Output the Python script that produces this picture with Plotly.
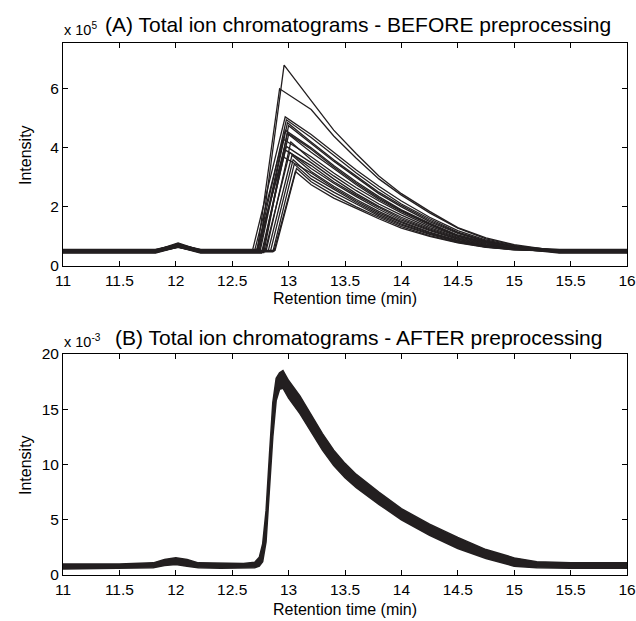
import plotly.graph_objects as go

# ---------------- Panel A: BEFORE preprocessing (x 10^5) ----------------
a_base = [0.50, 0.46, 0.53, 0.49, 0.55, 0.45, 0.51, 0.48, 0.54, 0.50,
          0.44, 0.56, 0.49, 0.52, 0.47, 0.51, 0.48, 0.53, 0.50, 0.46]
a_bump = [0.76, 0.70, 0.78, 0.68, 0.72, 0.66, 0.71, 0.69, 0.75, 0.67,
          0.64, 0.73, 0.68, 0.70, 0.65, 0.69, 0.63, 0.71, 0.66, 0.64]
a_onset = [12.74, 12.72, 12.68, 12.72, 12.75, 12.78, 12.74, 12.77, 12.70, 12.80,
           12.76, 12.73, 12.79, 12.82, 12.71, 12.84, 12.86, 12.88, 12.87, 12.77]
a_peak_t = [12.96, 12.92, 12.97, 12.98, 12.99, 13.00, 12.97, 13.00, 12.95, 13.02,
            12.98, 12.96, 13.01, 13.03, 12.95, 13.04, 13.05, 13.07, 13.06, 12.99]
a_peak_h = [6.80, 6.00, 5.05, 4.95, 4.85, 4.75, 4.60, 4.45, 4.30, 4.20,
            4.05, 3.95, 3.85, 3.75, 3.70, 3.60, 3.45, 3.30, 3.20, 4.50]
a_v132 = [5.60, 5.30, 4.45, 4.35, 4.20, 4.15, 4.00, 3.85, 3.70, 3.60,
          3.50, 3.40, 3.30, 3.20, 3.15, 3.05, 2.95, 2.85, 2.75, 3.95]
a_v134 = [4.60, 4.40, 3.85, 3.75, 3.60, 3.55, 3.40, 3.30, 3.15, 3.05,
          2.95, 2.85, 2.80, 2.70, 2.65, 2.60, 2.50, 2.40, 2.30, 3.35]
a_v136 = [3.80, 3.65, 3.25, 3.15, 3.05, 3.00, 2.85, 2.75, 2.65, 2.55,
          2.45, 2.40, 2.35, 2.25, 2.20, 2.15, 2.10, 2.00, 1.95, 2.80]
a_v138 = [3.05, 2.95, 2.70, 2.60, 2.50, 2.45, 2.35, 2.25, 2.20, 2.10,
          2.02, 1.98, 1.92, 1.85, 1.80, 1.75, 1.70, 1.65, 1.60, 2.30]
a_v140 = [2.45, 2.40, 2.20, 2.10, 2.05, 2.00, 1.90, 1.85, 1.80, 1.72,
          1.65, 1.60, 1.55, 1.50, 1.47, 1.42, 1.38, 1.33, 1.28, 1.88]
a_v1425 = [1.85, 1.80, 1.65, 1.60, 1.55, 1.50, 1.45, 1.40, 1.35, 1.30,
           1.26, 1.22, 1.20, 1.15, 1.12, 1.10, 1.07, 1.03, 1.00, 1.42]
a_v145 = [1.30, 1.28, 1.20, 1.15, 1.12, 1.10, 1.05, 1.02, 1.00, 0.97,
          0.94, 0.92, 0.90, 0.87, 0.85, 0.84, 0.82, 0.80, 0.78, 1.03]
a_v1475 = [0.95, 0.92, 0.88, 0.85, 0.83, 0.82, 0.80, 0.78, 0.76, 0.74,
           0.72, 0.70, 0.69, 0.68, 0.67, 0.66, 0.65, 0.64, 0.63, 0.79]
a_v150 = [0.72, 0.70, 0.68, 0.66, 0.65, 0.64, 0.63, 0.62, 0.61, 0.60,
          0.60, 0.59, 0.58, 0.57, 0.57, 0.56, 0.56, 0.55, 0.55, 0.62]

# ---------------- Panel B: AFTER preprocessing (x 10^-3) ----------------
b_time = [11.0, 11.5, 11.8, 11.9, 12.0, 12.1, 12.2, 12.4, 12.6, 12.7, 12.74,
          12.77, 12.8, 12.83, 12.86, 12.89, 12.92, 12.95, 12.98, 13.0, 13.1,
          13.2, 13.3, 13.4, 13.5, 13.6, 13.8, 14.0, 14.25, 14.5, 14.75, 15.0,
          15.2, 15.5, 16.0]
b_upper = [1.00, 1.00, 1.10, 1.40, 1.55, 1.40, 1.10, 1.05, 1.05, 1.15, 1.60,
           2.80, 5.80, 10.8, 15.6, 17.8, 18.3, 18.5, 18.0, 17.6, 16.2,
           14.5, 12.8, 11.3, 10.1, 9.1, 7.5, 6.0, 4.6, 3.4, 2.3, 1.55,
           1.20, 1.10, 1.10]
b_lower = [0.55, 0.60, 0.65, 0.85, 0.95, 0.80, 0.65, 0.60, 0.60, 0.65, 0.80,
           1.20, 3.00, 7.50, 12.5, 15.8, 16.8, 16.9, 16.4, 16.0, 14.6,
           12.9, 11.3, 9.9, 8.8, 7.9, 6.4, 5.0, 3.6, 2.4, 1.5, 0.80,
           0.65, 0.60, 0.60]

x_ticks = [11, 11.5, 12, 12.5, 13, 13.5, 14, 14.5, 15, 15.5, 16]
x_tick_text = ["11", "11.5", "12", "12.5", "13", "13.5", "14", "14.5", "15", "15.5", "16"]

INK = "#231f20"
FONT = "Liberation Sans, Arial, Helvetica, sans-serif"

fig = go.Figure()

for i in range(len(a_base)):
    xs = [11.0, 11.82, 12.02, 12.22, a_onset[i], a_peak_t[i], 13.2, 13.4, 13.6,
          13.8, 14.0, 14.25, 14.5, 14.75, 15.0, 15.4, 16.0]
    ys = [a_base[i], a_base[i], a_bump[i], a_base[i], a_base[i], a_peak_h[i],
          a_v132[i], a_v134[i], a_v136[i], a_v138[i], a_v140[i], a_v1425[i],
          a_v145[i], a_v1475[i], a_v150[i], a_base[i], a_base[i]]
    fig.add_trace(go.Scatter(x=xs, y=ys, mode="lines", xaxis="x", yaxis="y",
                             line=dict(color=INK, width=1.3), showlegend=False,
                             hoverinfo="skip"))

fig.add_trace(go.Scatter(x=b_time, y=b_lower, mode="lines", xaxis="x2", yaxis="y2",
                         line=dict(color=INK, width=1.5), showlegend=False))
fig.add_trace(go.Scatter(x=b_time, y=b_upper, mode="lines", xaxis="x2", yaxis="y2",
                         fill="tonexty", fillcolor=INK,
                         line=dict(color=INK, width=1.5), showlegend=False))

W, H = 636, 621
def px(xp):
    return xp / W
def py(yp):
    return 1 - yp / H

axis_common = dict(showline=True, linecolor="black", linewidth=1, mirror="ticks",
                   ticks="inside", ticklen=5, tickcolor="black", showgrid=False,
                   zeroline=False, automargin=False,
                   tickfont=dict(family=FONT, size=15.5, color="black"))

fig.update_layout(
    width=W, height=H, margin=dict(l=0, r=0, t=0, b=0, autoexpand=False),
    paper_bgcolor="white", plot_bgcolor="white", showlegend=False,
    xaxis=dict(domain=[px(63), px(627)], anchor="y", range=[11, 16],
               tickvals=x_ticks, ticktext=x_tick_text, **axis_common),
    yaxis=dict(domain=[py(266), py(43)], anchor="x", range=[0, 7.55],
               tickvals=[0, 2, 4, 6], **axis_common),
    xaxis2=dict(domain=[px(63), px(627)], anchor="y2", range=[11, 16],
                tickvals=x_ticks, ticktext=x_tick_text, **axis_common),
    yaxis2=dict(domain=[py(575), py(354)], anchor="x2", range=[0, 20],
                tickvals=[0, 5, 10, 15, 20], **axis_common),
)

def ann(text, x, y, size, xanchor="left", yanchor="middle", angle=0):
    fig.add_annotation(text=text, x=px(x), y=py(y), xref="paper", yref="paper",
                       xanchor=xanchor, yanchor=yanchor, showarrow=False,
                       textangle=angle, font=dict(family=FONT, size=size, color="black"))

ann("(A) Total ion chromatograms - BEFORE preprocessing", 103, 25, 21)
ann("x 10<sup>5</sup>", 62, 29, 14.5)
ann("(B) Total ion chromatograms - AFTER preprocessing", 113, 337, 21)
ann("x 10<sup>-3</sup>", 62, 341, 14.5)
ann("Retention time (min)", 345, 298, 16, xanchor="center")
ann("Retention time (min)", 345, 609, 16, xanchor="center")
ann("Intensity", 25, 155, 16, xanchor="center", angle=-90)
ann("Intensity", 25, 465, 16, xanchor="center", angle=-90)

fig.write_html("out.html", config={"displayModeBar": False},
               post_script="document.body.style.margin='0px';document.body.style.overflow='hidden';")
